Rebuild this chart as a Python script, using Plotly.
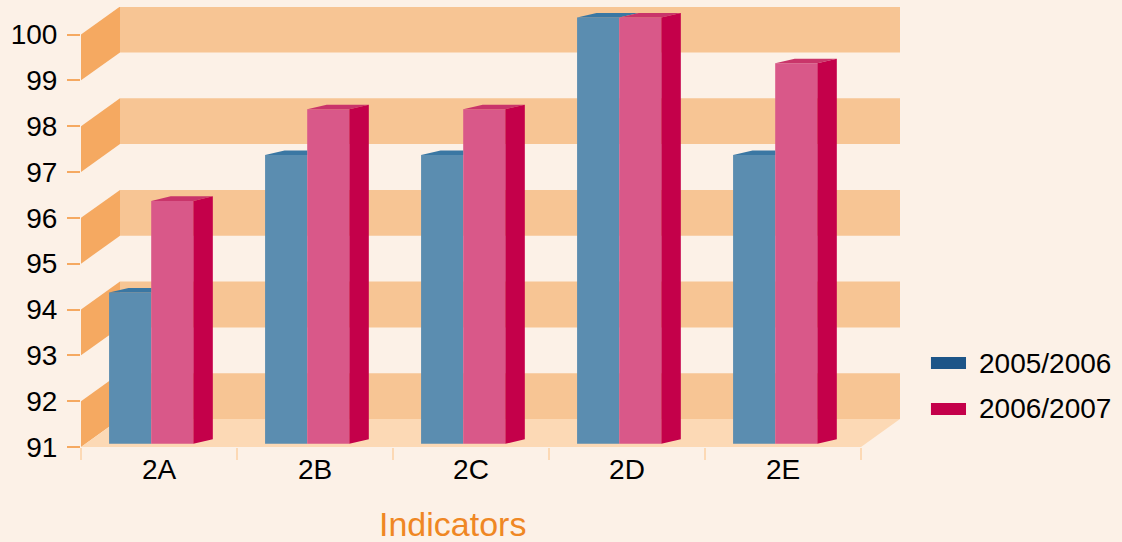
import plotly.graph_objects as go

# ---- data -------------------------------------------------------------
indicators = ["2A", "2B", "2C", "2D", "2E"]
series_names = ["2005/2006", "2006/2007"]
values_0506 = [94, 97, 97, 100, 97]
values_0607 = [96, 98, 98, 100, 99]
y_ticks = [91, 92, 93, 94, 95, 96, 97, 98, 99, 100]

# ---- styling ------------------------------------------------------------
FONT = "Liberation Sans, Arial, sans-serif"
BG = "#FCF1E7"
WALL_BAND = "#F7C594"
WALL_SIDE = "#F5A961"
FLOOR = "#FCD9B5"
BLUE_FRONT, BLUE_TOP, BLUE_KEY = "#5B8DB0", "#3A77A3", "#1D5588"
PINK_FRONT, PINK_TOP, PINK_SIDE = "#D95889", "#C9356A", "#C4004A"
TITLE_ORANGE = "#EF8724"

Y_LO, Y_HI = 91, 100.6          # front-plane value range
X_LO, X_HI = -0.5, 4.75         # category range incl. wall depth
BACK_SHIFT = 0.61               # back wall raised by this many value units
WALL_DX = 0.25                  # back wall pushed right (category units)
BAR_SHIFT = 0.37                # bars stand in a plane between front and back
BAR_BASE = 90.7
BAR_W = 0.27
GROUP_OFF = -0.05
DEPTH_X, DEPTH_Y = 0.125, 0.10  # depth of each bar box

n = len(indicators)
x_idx = list(range(n))

fig = go.Figure()
fig.add_trace(go.Bar(
    x=x_idx, y=[v - BAR_BASE for v in values_0506], base=BAR_BASE,
    width=BAR_W, offset=GROUP_OFF - BAR_W, yaxis="y2",
    marker=dict(color=BLUE_FRONT, line=dict(width=0)),
    name=series_names[0], showlegend=False,
    customdata=values_0506, hovertemplate="%{customdata}<extra>2005/2006</extra>",
))
fig.add_trace(go.Bar(
    x=x_idx, y=[v - BAR_BASE for v in values_0607], base=BAR_BASE,
    width=BAR_W, offset=GROUP_OFF, yaxis="y2",
    marker=dict(color=PINK_FRONT, line=dict(width=0)),
    name=series_names[1], showlegend=False,
    customdata=values_0607, hovertemplate="%{customdata}<extra>2006/2007</extra>",
))

shapes = []

# striped back wall and the matching slanted side wall
for lo in range(y_ticks[0], y_ticks[-1], 2):
    shapes.append(dict(
        type="rect", xref="x", yref="y", layer="below",
        x0=X_LO + WALL_DX, x1=X_HI, y0=lo + BACK_SHIFT, y1=lo + 1 + BACK_SHIFT,
        fillcolor=WALL_BAND, line=dict(width=0)))
    shapes.append(dict(
        type="path", xref="x", yref="y", layer="below",
        path=(f"M{X_LO},{lo} L{X_LO + WALL_DX},{lo + BACK_SHIFT} "
              f"L{X_LO + WALL_DX},{lo + 1 + BACK_SHIFT} L{X_LO},{lo + 1} Z"),
        fillcolor=WALL_SIDE, line=dict(width=0)))

# floor
front_r = n - 0.5
shapes.append(dict(
    type="path", xref="x", yref="y", layer="below",
    path=(f"M{X_LO},{Y_LO} L{front_r},{Y_LO} L{front_r + WALL_DX},{Y_LO + BACK_SHIFT} "
          f"L{X_LO + WALL_DX},{Y_LO + BACK_SHIFT} Z"),
    fillcolor=FLOOR, line=dict(width=0)))

# box tops and side faces of every bar pair
for i, (a, b) in enumerate(zip(values_0506, values_0607)):
    left = i + GROUP_OFF - BAR_W
    mid = i + GROUP_OFF
    right = mid + BAR_W
    blue_edge = mid + DEPTH_X if a >= b else mid
    shapes.append(dict(
        type="path", xref="x", yref="y2",
        path=(f"M{left},{a} L{mid},{a} L{blue_edge},{a + DEPTH_Y} "
              f"L{left + DEPTH_X},{a + DEPTH_Y} Z"),
        fillcolor=BLUE_TOP, line=dict(width=0)))
    shapes.append(dict(
        type="path", xref="x", yref="y2",
        path=(f"M{mid},{b} L{right},{b} L{right + DEPTH_X},{b + DEPTH_Y} "
              f"L{mid + DEPTH_X},{b + DEPTH_Y} Z"),
        fillcolor=PINK_TOP, line=dict(width=0)))
    shapes.append(dict(
        type="path", xref="x", yref="y2",
        path=(f"M{right},{BAR_BASE} L{right},{b} L{right + DEPTH_X},{b + DEPTH_Y} "
              f"L{right + DEPTH_X},{BAR_BASE + DEPTH_Y} Z"),
        fillcolor=PINK_SIDE, line=dict(width=0)))

# legend keys
key_colors = [BLUE_KEY, PINK_SIDE]
key_rows = [(0.2045, 0.1773, 0.1909), (0.100, 0.0727, 0.0864)]
annotations = []
for name, col, (ky1, ky0, ty) in zip(series_names, key_colors, key_rows):
    shapes.append(dict(type="rect", xref="paper", yref="paper",
                       x0=1.0378, x1=1.0806, y0=ky0, y1=ky1,
                       fillcolor=col, line=dict(width=0)))
    annotations.append(dict(xref="paper", yref="paper", x=1.0945, y=ty,
                            xanchor="left", yanchor="middle", showarrow=False,
                            text=name, font=dict(family=FONT, size=28, color="#000000")))

annotations.append(dict(xref="paper", yref="paper", x=0.453, y=-0.175,
                        xanchor="center", yanchor="middle", showarrow=False,
                        text="Indicators",
                        font=dict(family=FONT, size=34, color=TITLE_ORANGE)))

fig.update_layout(
    width=1122, height=542,
    margin=dict(l=81, r=222, t=7, b=95, pad=0),
    paper_bgcolor=BG, plot_bgcolor=BG,
    barmode="overlay",
    showlegend=False,
    font=dict(family=FONT, size=28, color="#000000"),
    xaxis=dict(
        range=[X_LO, X_HI], tickvals=x_idx, ticktext=indicators,
        ticks="", showgrid=False, zeroline=False, showline=False,
        tickfont=dict(family=FONT, size=28, color="#000000"),
        ticklabelstandoff=3,
        minor=dict(tickvals=[i - 0.5 for i in range(n + 1)], ticks="outside",
                   ticklen=12, tickwidth=2, tickcolor=FLOOR, showgrid=False),
    ),
    yaxis=dict(
        range=[Y_LO, Y_HI], tickvals=y_ticks,
        ticks="outside", ticklen=13, tickwidth=2, tickcolor=WALL_SIDE,
        showgrid=False, zeroline=False, showline=False,
        tickfont=dict(family=FONT, size=28, color="#000000"),
        ticklabelstandoff=4,
    ),
    yaxis2=dict(
        range=[Y_LO - BAR_SHIFT, Y_HI - BAR_SHIFT], overlaying="y",
        visible=False, showgrid=False, zeroline=False,
    ),
    shapes=shapes,
    annotations=annotations,
)

fig.write_html("out.html")
